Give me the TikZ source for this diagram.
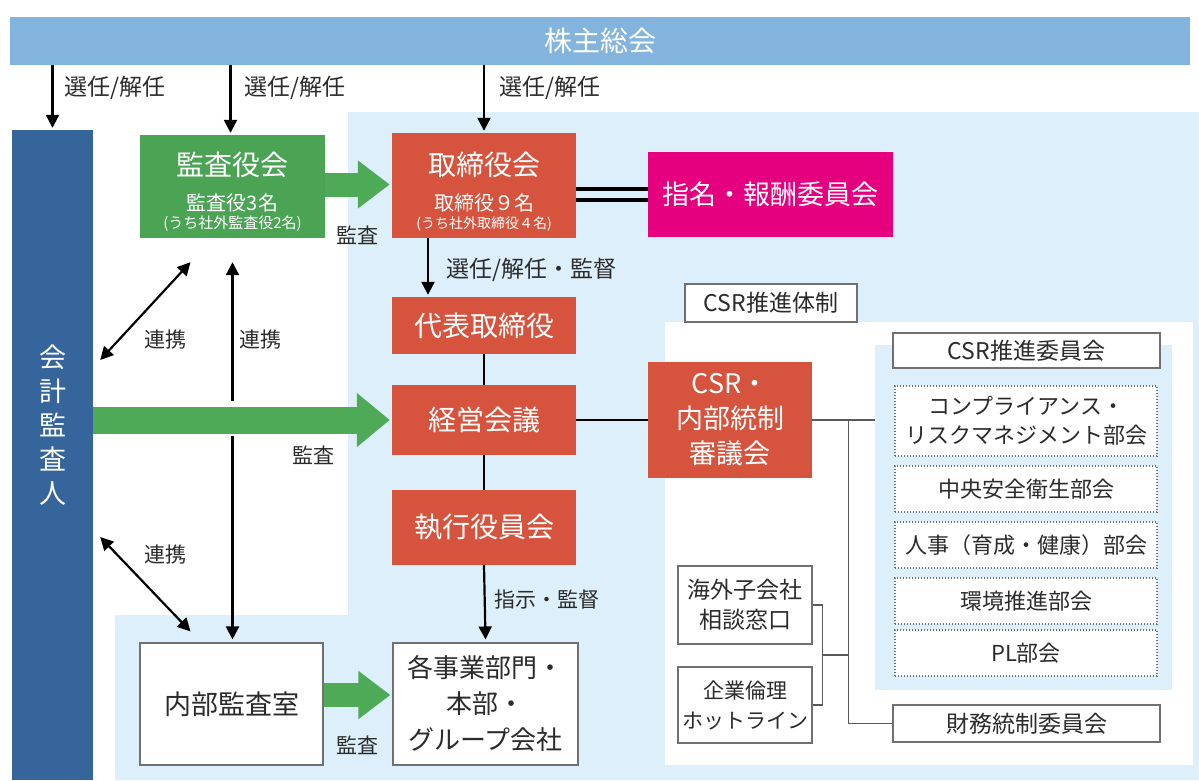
\documentclass[tikz,border=0pt]{standalone}
\usepackage{fontspec}
\setmainfont{Noto Sans CJK JP}
\usetikzlibrary{arrows.meta,calc}
\definecolor{barblue}{HTML}{82B4DE}
\definecolor{bgblue}{HTML}{DDEFFA}
\definecolor{darkblue}{HTML}{35659B}
\definecolor{boxgreen}{HTML}{4BA354}
\definecolor{arrgreen}{HTML}{4FAA58}
\definecolor{boxred}{HTML}{D6533D}
\definecolor{boxpink}{HTML}{E4007F}
\definecolor{txt}{HTML}{2B2B2B}
\definecolor{edgegrey}{HTML}{707070}
\begin{document}
\begin{tikzpicture}[x=1pt,y=-1pt,
  every node/.style={inner sep=0pt},
  redbox/.style={fill=boxred, text=white, align=center, minimum width=184pt},
  whitebox/.style={fill=white, draw=edgegrey, line width=1.1pt, text=txt, align=center},
  dotbox/.style={fill=white, draw=edgegrey, line width=1.1pt, dash pattern=on 1.4pt off 1.6pt, text=txt, align=center, minimum width=262pt},
  lbl/.style={text=txt, font=\fontsize{23}{26}\selectfont},
  sublbl/.style={text=txt, font=\fontsize{21}{24}\selectfont},
  intxt/.style={text=white},
  big/.style={font=\fontsize{28}{34}\selectfont},
  mid/.style={font=\fontsize{22}{29}\selectfont},
  arr/.style={line width=2.2pt, -{Triangle[width=13pt,length=13pt]}},
  darr/.style={line width=2.2pt, {Triangle[width=13pt,length=13pt]}-{Triangle[width=13pt,length=13pt]}},
  garr/.style={draw=arrgreen, line width=24pt, -{Triangle[width=46pt,length=32pt]}},
  cline/.style={draw=black!65, line width=1.3pt}]
\useasboundingbox (0,0) rectangle (1199,780);
% backgrounds
\fill[bgblue] (348,112) -- (1199,112) -- (1199,780) -- (115,780) -- (115,615) -- (348,615) -- cycle;
\fill[white] (665,322) rectangle (1193,765);
\node[fill=bgblue, minimum width=297pt, minimum height=345pt] (csrbg) at (1023.5,517.5) {};
% top bar
\node[fill=barblue, minimum width=1180pt, minimum height=48pt, text=white, font=\fontsize{28}{32}\selectfont] (kabu) at (600,41) {株主総会};
% auditor bar
\node[fill=darkblue, minimum width=81pt, minimum height=650pt] (kaikei) at (52.5,455) {};
\node[text=white, align=center, font=\fontsize{27}{34}\selectfont] (kaikeitxt) at (52.5,425) {会\\計\\監\\査\\人};
% main boxes
\node[fill=boxgreen, minimum width=185pt, minimum height=103pt] (kansa) at (232.5,186.5) {};
\node[intxt, big] (kansa1) at ($(kansa.center)+(0,-21.5)$) {監査役会};
\node[intxt, font=\fontsize{20}{24}\selectfont] (kansa2) at ($(kansa.center)+(0,16.5)$) {監査役3名};
\node[intxt, font=\fontsize{15}{18}\selectfont] (kansa3) at ($(kansa.center)+(0,37.5)$) {(うち社外監査役2名)};
\node[redbox, minimum height=105pt] (tori) at (484,185.5) {};
\node[intxt, big] (tori1) at ($(tori.center)+(0,-20.5)$) {取締役会};
\node[intxt, font=\fontsize{20}{24}\selectfont] (tori2) at ($(tori.center)+(0,17.5)$) {取締役９名};
\node[intxt, font=\fontsize{14}{18}\selectfont] (tori3) at ($(tori.center)+(0,38.5)$) {(うち社外取締役４名)};
\node[fill=boxpink, text=white, minimum width=245pt, minimum height=85pt, font=\fontsize{27}{32}\selectfont] (shimei) at (770.5,194.5) {指名・報酬委員会};
\node[redbox, minimum height=57pt, big] (daihyo) at (484,325.5) {代表取締役};
\node[redbox, minimum height=70pt, big] (keiei) at (484,420) {経営会議};
\node[redbox, minimum height=75pt, big] (shikko) at (484,527.5) {執行役員会};
\node[whitebox, minimum width=185pt, minimum height=122pt, font=\fontsize{26}{36}\selectfont] (jigyo) at (485.5,704) {各事業部門・\\本部・\\グループ会社};
\node[whitebox, minimum width=183pt, minimum height=122pt, font=\fontsize{27}{32}\selectfont] (naibu) at (231.5,704) {内部監査室};
% CSR area
\node[whitebox, minimum width=172pt, minimum height=38pt, font=\fontsize{23}{26}\selectfont] (taisei) at (771,303) {CSR推進体制};
\node[fill=boxred, text=white, align=center, minimum width=164pt, minimum height=116pt, font=\fontsize{27}{35}\selectfont] (csrc) at (730,420) {CSR・\\内部統制\\審議会};
\node[whitebox, minimum width=267pt, minimum height=35pt, font=\fontsize{23}{26}\selectfont] (iinkai) at (1026.5,350.5) {CSR推進委員会};
\node[dotbox, minimum height=70pt, mid] (comp) at (1026,421) {コンプライアンス・\\リスクマネジメント部会};
\node[dotbox, minimum height=46pt, mid] (chuo) at (1026,489) {中央安全衛生部会};
\node[dotbox, minimum height=46pt, mid] (jinji) at (1026,545) {人事（育成・健康）部会};
\node[dotbox, minimum height=46pt, mid] (kankyo) at (1026,601) {環境推進部会};
\node[dotbox, minimum height=46pt, mid] (pl) at (1026,653) {PL部会};
\node[whitebox, minimum width=267pt, minimum height=37pt, font=\fontsize{23}{26}\selectfont] (zaimu) at (1026.5,723.5) {財務統制委員会};
\node[whitebox, minimum width=134pt, minimum height=78pt, font=\fontsize{23}{30}\selectfont] (kaigai) at (745,605) {海外子会社\\相談窓口};
\node[whitebox, minimum width=134pt, minimum height=76pt, font=\fontsize{21}{30}\selectfont] (kigyo) at (745,705) {企業倫理\\ホットライン};
% top arrows
\draw[arr] (kaikei.north |- kabu.south) -- ([yshift=2pt]kaikei.north);
\draw[arr] ([xshift=-2pt]kansa.north |- kabu.south) -- ([xshift=-2pt,yshift=2pt]kansa.north);
\draw[arr] (tori.north |- kabu.south) -- ([yshift=2pt]tori.north);
\node[lbl, anchor=west] (l1) at (64,88) {選任/解任};
\node[lbl, anchor=west] (l2) at (244,88) {選任/解任};
\node[lbl, anchor=west] (l3) at (499,88) {選任/解任};
% board links
\draw[line width=4pt] ([yshift=-3pt]tori.east) -- ([yshift=-3pt]tori.east -| shimei.west);
\draw[line width=4pt] ([yshift=-14pt]tori.east) -- ([yshift=-14pt]tori.east -| shimei.west);
\draw[arr] ([xshift=-56pt]tori.south) -- ([xshift=-56pt,yshift=2pt]daihyo.north);
\node[lbl, anchor=west] (l4) at (446,270) {選任/解任・監督};
\draw[line width=2.4pt] (daihyo.south) -- (keiei.north);
\draw[line width=2.4pt] (keiei.south) -- (shikko.north);
\draw[line width=2.4pt] (keiei.east) -- (csrc.west);
\draw[arr] (shikko.south) -- ([yshift=3pt]jigyo.north);
\node[sublbl, anchor=west] (l5) at (494,600) {指示・監督};
% liaison arrows
\draw[darr] ($(kaikei.east)+(7,-95)$) -- ([xshift=-42pt,yshift=-24pt]kansa.south);
\node[sublbl] (l6) at (165,340) {連携};
\draw[darr] ([yshift=3pt]naibu.north -| kansa.south) -- ([yshift=-24pt]kansa.south);
\node[sublbl] (l7) at (260,340) {連携};
\draw[darr] ($(kaikei.east)+(7,82)$) -- ([xshift=-41pt,yshift=11pt]naibu.north);
\node[sublbl] (l8) at (165,555) {連携};
% green audit arrows
\draw[garr] ([yshift=2pt]kansa.east) -- ([yshift=2pt,xshift=-2pt]kansa.east -| tori.west);
\node[sublbl] (l9) at (357,235) {監査};
\draw[white, line width=35pt] ([yshift=2pt]kaikei.east |- keiei.west) -- ++(200,0);
\draw[garr, line width=27pt, -{Triangle[width=52pt,length=33pt]}] (kaikei.east |- keiei.west) -- ([xshift=-2pt]keiei.west);
\node[sublbl] (l10) at (313,455) {監査};
\draw[garr] ([yshift=9pt]naibu.east) -- ([yshift=9pt,xshift=-2pt]naibu.east -| jigyo.west);
\node[sublbl] (l11) at (357,745) {監査};
% CSR connectors
\draw[cline] (csrc.east) -- (csrc.east -| csrbg.west);
\coordinate (jn) at ($(csrc.east)+(36,0)$);
\draw[cline] (jn) |- (zaimu.west);
\draw[cline] (kaigai.east) -- ++(10,0) |- (kigyo.east);
\coordinate (br) at ($(kaigai.east)!0.5!(kigyo.east)+(10,0)$);
\draw[cline] (br) -- (br -| jn);
\end{tikzpicture}
\end{document}
